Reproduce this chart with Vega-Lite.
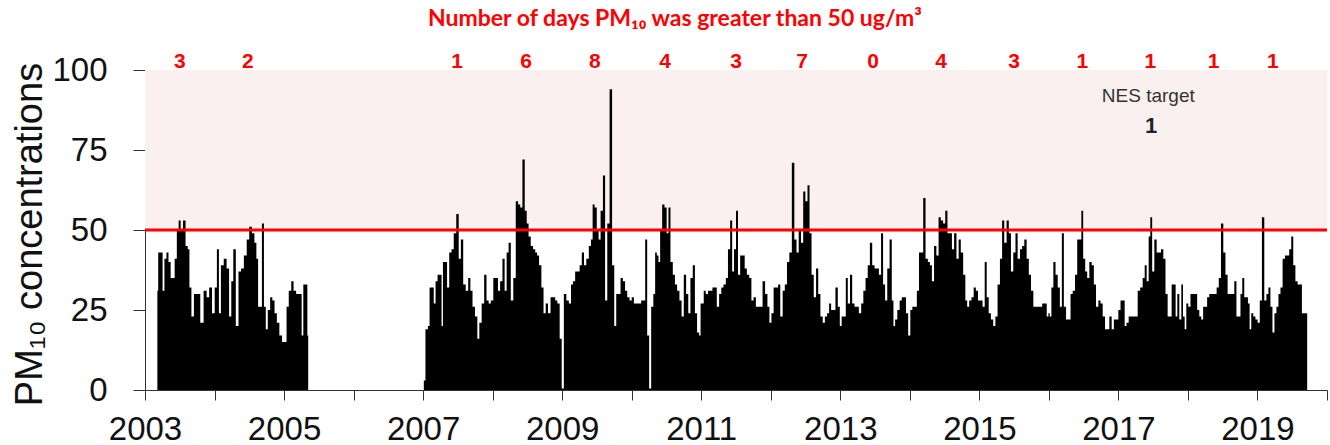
{
"$schema": "https://vega.github.io/schema/vega-lite/v6.json",
"width": 1182, "height": 320,
"autosize": {"type": "none"},
"padding": {"left": 145, "top": 70, "right": 3, "bottom": 55},
"background": "white",
"title": {"text": "Number of days PM₁₀ was greater than 50 ug/m³", "color": "#ff0000", "font": "Lato", "fontWeight": "bold", "fontSize": 23, "anchor": "middle", "frame": "group", "dx": -61, "offset": 2, "baseline": "alphabetic"},
"config": {"view": {"stroke": null}, "axis": {"grid": false}, "font": "Liberation Sans"},
"datasets": {
"pmA": [
{"t":2003.178,"v":31},{"t":2003.202,"v":43},{"t":2003.241,"v":43},{"t":2003.265,"v":31},{"t":2003.294,"v":41},{"t":2003.323,"v":43},{"t":2003.352,"v":40},{"t":2003.386,"v":35},{"t":2003.410,"v":35},{"t":2003.443,"v":41},{"t":2003.472,"v":50},{"t":2003.496,"v":53},{"t":2003.530,"v":50},{"t":2003.564,"v":53},{"t":2003.602,"v":45},{"t":2003.627,"v":44},{"t":2003.651,"v":32},{"t":2003.684,"v":23},{"t":2003.723,"v":30},{"t":2003.771,"v":30},{"t":2003.819,"v":21},{"t":2003.867,"v":31},{"t":2003.906,"v":29},{"t":2003.940,"v":32},{"t":2003.988,"v":24},{"t":2004.017,"v":32},{"t":2004.051,"v":44},{"t":2004.075,"v":24},{"t":2004.108,"v":39},{"t":2004.157,"v":41},{"t":2004.190,"v":38},{"t":2004.229,"v":23},{"t":2004.253,"v":34},{"t":2004.287,"v":44},{"t":2004.325,"v":20},{"t":2004.364,"v":37},{"t":2004.398,"v":38},{"t":2004.446,"v":42},{"t":2004.480,"v":47},{"t":2004.518,"v":51},{"t":2004.557,"v":49},{"t":2004.590,"v":46},{"t":2004.614,"v":41},{"t":2004.639,"v":26},{"t":2004.667,"v":26},{"t":2004.696,"v":52},{"t":2004.725,"v":26},{"t":2004.749,"v":19},{"t":2004.783,"v":25},{"t":2004.817,"v":29},{"t":2004.846,"v":28},{"t":2004.880,"v":24},{"t":2004.913,"v":21},{"t":2004.952,"v":17},{"t":2004.990,"v":15},{"t":2005.024,"v":15},{"t":2005.048,"v":26},{"t":2005.087,"v":31},{"t":2005.120,"v":34},{"t":2005.154,"v":31},{"t":2005.193,"v":30},{"t":2005.241,"v":30},{"t":2005.265,"v":17},{"t":2005.289,"v":33},{"t":2005.323,"v":33},{"t":2005.347,"v":17}
],
"pmB": [
{"t":2007.010,"v":3},{"t":2007.057,"v":19},{"t":2007.081,"v":20},{"t":2007.105,"v":32},{"t":2007.139,"v":32},{"t":2007.167,"v":27},{"t":2007.191,"v":34},{"t":2007.225,"v":36},{"t":2007.258,"v":36},{"t":2007.273,"v":20},{"t":2007.297,"v":40},{"t":2007.330,"v":40},{"t":2007.359,"v":32},{"t":2007.392,"v":43},{"t":2007.426,"v":44},{"t":2007.455,"v":49},{"t":2007.498,"v":55},{"t":2007.526,"v":41},{"t":2007.560,"v":47},{"t":2007.593,"v":33},{"t":2007.632,"v":31},{"t":2007.665,"v":35},{"t":2007.694,"v":31},{"t":2007.727,"v":26},{"t":2007.766,"v":23},{"t":2007.794,"v":16},{"t":2007.823,"v":21},{"t":2007.861,"v":27},{"t":2007.895,"v":36},{"t":2007.928,"v":28},{"t":2007.957,"v":27},{"t":2007.990,"v":28},
{"t":2008.029,"v":35},{"t":2008.062,"v":35},{"t":2008.091,"v":31},{"t":2008.124,"v":34},{"t":2008.158,"v":41},{"t":2008.187,"v":31},{"t":2008.215,"v":43},{"t":2008.244,"v":46},{"t":2008.278,"v":28},{"t":2008.316,"v":35},{"t":2008.349,"v":59},{"t":2008.383,"v":58},{"t":2008.411,"v":57},{"t":2008.445,"v":72},{"t":2008.478,"v":56},{"t":2008.502,"v":52},{"t":2008.531,"v":48},{"t":2008.565,"v":45},{"t":2008.598,"v":44},{"t":2008.627,"v":43},{"t":2008.651,"v":42},{"t":2008.684,"v":39},{"t":2008.718,"v":32},{"t":2008.746,"v":24},{"t":2008.780,"v":27},{"t":2008.813,"v":24},{"t":2008.852,"v":29},{"t":2008.885,"v":29},{"t":2008.914,"v":28},{"t":2008.947,"v":27},{"t":2008.981,"v":16},
{"t":2009.005,"v":0.5},{"t":2009.043,"v":30},{"t":2009.077,"v":28},{"t":2009.115,"v":27},{"t":2009.139,"v":33},{"t":2009.172,"v":34},{"t":2009.201,"v":37},{"t":2009.234,"v":37},{"t":2009.268,"v":39},{"t":2009.297,"v":43},{"t":2009.330,"v":39},{"t":2009.364,"v":41},{"t":2009.402,"v":45},{"t":2009.426,"v":47},{"t":2009.450,"v":58},{"t":2009.483,"v":57},{"t":2009.512,"v":50},{"t":2009.536,"v":47},{"t":2009.569,"v":56},{"t":2009.603,"v":67},{"t":2009.632,"v":28},{"t":2009.665,"v":52},{"t":2009.699,"v":94},{"t":2009.737,"v":39},{"t":2009.761,"v":20},{"t":2009.794,"v":30},{"t":2009.823,"v":30},{"t":2009.856,"v":35},{"t":2009.890,"v":34},{"t":2009.919,"v":31},{"t":2009.952,"v":29},{"t":2009.986,"v":28},
{"t":2010.014,"v":29},{"t":2010.048,"v":27},{"t":2010.081,"v":27},{"t":2010.120,"v":27},{"t":2010.153,"v":28},{"t":2010.182,"v":28},{"t":2010.206,"v":47},{"t":2010.239,"v":17},{"t":2010.263,"v":0.5},{"t":2010.297,"v":26},{"t":2010.325,"v":30},{"t":2010.349,"v":43},{"t":2010.373,"v":42},{"t":2010.397,"v":40},{"t":2010.421,"v":50},{"t":2010.455,"v":58},{"t":2010.488,"v":57},{"t":2010.517,"v":49},{"t":2010.541,"v":57},{"t":2010.574,"v":40},{"t":2010.608,"v":36},{"t":2010.636,"v":33},{"t":2010.670,"v":31},{"t":2010.703,"v":28},{"t":2010.732,"v":23},{"t":2010.766,"v":36},{"t":2010.799,"v":30},{"t":2010.828,"v":24},{"t":2010.861,"v":35},{"t":2010.895,"v":39},{"t":2010.923,"v":24},{"t":2010.957,"v":18},{"t":2010.981,"v":17},
{"t":2011.000,"v":27},{"t":2011.024,"v":27},{"t":2011.048,"v":31},{"t":2011.082,"v":30},{"t":2011.111,"v":31},{"t":2011.144,"v":31},{"t":2011.178,"v":32},{"t":2011.207,"v":32},{"t":2011.240,"v":26},{"t":2011.274,"v":30},{"t":2011.303,"v":32},{"t":2011.337,"v":33},{"t":2011.370,"v":35},{"t":2011.399,"v":44},{"t":2011.433,"v":53},{"t":2011.457,"v":37},{"t":2011.486,"v":44},{"t":2011.514,"v":56},{"t":2011.543,"v":36},{"t":2011.577,"v":42},{"t":2011.611,"v":42},{"t":2011.639,"v":38},{"t":2011.673,"v":36},{"t":2011.707,"v":35},{"t":2011.736,"v":28},{"t":2011.769,"v":29},{"t":2011.803,"v":26},{"t":2011.832,"v":26},{"t":2011.865,"v":26},{"t":2011.899,"v":34},{"t":2011.938,"v":30},{"t":2011.966,"v":26},{"t":2011.995,"v":21},
{"t":2012.024,"v":24},{"t":2012.058,"v":32},{"t":2012.091,"v":32},{"t":2012.120,"v":33},{"t":2012.154,"v":23},{"t":2012.188,"v":31},{"t":2012.216,"v":33},{"t":2012.250,"v":40},{"t":2012.284,"v":43},{"t":2012.322,"v":71},{"t":2012.356,"v":47},{"t":2012.385,"v":43},{"t":2012.418,"v":50},{"t":2012.452,"v":46},{"t":2012.481,"v":62},{"t":2012.514,"v":59},{"t":2012.543,"v":64},{"t":2012.572,"v":49},{"t":2012.601,"v":36},{"t":2012.635,"v":29},{"t":2012.668,"v":38},{"t":2012.697,"v":30},{"t":2012.731,"v":23},{"t":2012.764,"v":21},{"t":2012.793,"v":23},{"t":2012.827,"v":24},{"t":2012.851,"v":27},{"t":2012.885,"v":25},{"t":2012.913,"v":25},{"t":2012.947,"v":32},{"t":2012.981,"v":26},
{"t":2013.005,"v":20},{"t":2013.034,"v":23},{"t":2013.067,"v":23},{"t":2013.091,"v":35},{"t":2013.125,"v":27},{"t":2013.154,"v":36},{"t":2013.188,"v":27},{"t":2013.221,"v":26},{"t":2013.250,"v":26},{"t":2013.284,"v":24},{"t":2013.317,"v":27},{"t":2013.346,"v":31},{"t":2013.380,"v":35},{"t":2013.409,"v":39},{"t":2013.442,"v":46},{"t":2013.476,"v":39},{"t":2013.510,"v":38},{"t":2013.538,"v":38},{"t":2013.572,"v":36},{"t":2013.601,"v":49},{"t":2013.630,"v":33},{"t":2013.659,"v":28},{"t":2013.692,"v":38},{"t":2013.726,"v":47},{"t":2013.755,"v":28},{"t":2013.774,"v":20},{"t":2013.803,"v":22},{"t":2013.837,"v":25},{"t":2013.870,"v":28},{"t":2013.899,"v":29},{"t":2013.933,"v":29},{"t":2013.957,"v":24},{"t":2013.995,"v":17},
{"t":2014.019,"v":25},{"t":2014.053,"v":26},{"t":2014.087,"v":26},{"t":2014.115,"v":31},{"t":2014.149,"v":43},{"t":2014.178,"v":43},{"t":2014.207,"v":60},{"t":2014.245,"v":41},{"t":2014.274,"v":40},{"t":2014.303,"v":39},{"t":2014.332,"v":34},{"t":2014.365,"v":45},{"t":2014.399,"v":42},{"t":2014.428,"v":54},{"t":2014.462,"v":53},{"t":2014.495,"v":52},{"t":2014.524,"v":56},{"t":2014.558,"v":49},{"t":2014.591,"v":49},{"t":2014.620,"v":44},{"t":2014.654,"v":49},{"t":2014.688,"v":41},{"t":2014.716,"v":47},{"t":2014.750,"v":43},{"t":2014.784,"v":36},{"t":2014.813,"v":28},{"t":2014.837,"v":26},{"t":2014.870,"v":28},{"t":2014.904,"v":29},{"t":2014.933,"v":32},{"t":2014.966,"v":31},{"t":2014.995,"v":28},
{"t":2015.029,"v":28},{"t":2015.063,"v":26},{"t":2015.091,"v":40},{"t":2015.120,"v":29},{"t":2015.149,"v":24},{"t":2015.183,"v":22},{"t":2015.216,"v":20},{"t":2015.245,"v":23},{"t":2015.279,"v":33},{"t":2015.313,"v":41},{"t":2015.341,"v":53},{"t":2015.375,"v":46},{"t":2015.409,"v":53},{"t":2015.438,"v":49},{"t":2015.471,"v":37},{"t":2015.505,"v":43},{"t":2015.534,"v":49},{"t":2015.567,"v":41},{"t":2015.601,"v":44},{"t":2015.630,"v":45},{"t":2015.663,"v":47},{"t":2015.697,"v":41},{"t":2015.726,"v":36},{"t":2015.760,"v":31},{"t":2015.793,"v":26},{"t":2015.822,"v":26},{"t":2015.856,"v":26},{"t":2015.889,"v":26},{"t":2015.918,"v":27},{"t":2015.952,"v":27},{"t":2015.986,"v":23},
{"t":2016.000,"v":24},{"t":2016.024,"v":23},{"t":2016.048,"v":32},{"t":2016.081,"v":40},{"t":2016.110,"v":36},{"t":2016.144,"v":32},{"t":2016.172,"v":26},{"t":2016.201,"v":49},{"t":2016.230,"v":26},{"t":2016.264,"v":22},{"t":2016.297,"v":22},{"t":2016.326,"v":30},{"t":2016.359,"v":31},{"t":2016.393,"v":36},{"t":2016.422,"v":47},{"t":2016.455,"v":47},{"t":2016.479,"v":56},{"t":2016.508,"v":41},{"t":2016.537,"v":37},{"t":2016.565,"v":35},{"t":2016.599,"v":40},{"t":2016.632,"v":39},{"t":2016.661,"v":33},{"t":2016.695,"v":26},{"t":2016.728,"v":28},{"t":2016.757,"v":27},{"t":2016.791,"v":23},{"t":2016.824,"v":19},{"t":2016.853,"v":19},{"t":2016.886,"v":23},{"t":2016.920,"v":19},{"t":2016.949,"v":22},{"t":2016.982,"v":22},
{"t":2017.016,"v":25},{"t":2017.045,"v":28},{"t":2017.078,"v":28},{"t":2017.102,"v":20},{"t":2017.131,"v":21},{"t":2017.164,"v":23},{"t":2017.198,"v":23},{"t":2017.231,"v":23},{"t":2017.260,"v":23},{"t":2017.294,"v":31},{"t":2017.332,"v":32},{"t":2017.366,"v":35},{"t":2017.390,"v":39},{"t":2017.423,"v":34},{"t":2017.447,"v":48},{"t":2017.471,"v":54},{"t":2017.500,"v":37},{"t":2017.533,"v":47},{"t":2017.567,"v":43},{"t":2017.596,"v":43},{"t":2017.629,"v":44},{"t":2017.663,"v":41},{"t":2017.691,"v":30},{"t":2017.725,"v":23},{"t":2017.749,"v":23},{"t":2017.782,"v":33},{"t":2017.811,"v":33},{"t":2017.835,"v":23},{"t":2017.859,"v":30},{"t":2017.893,"v":22},{"t":2017.917,"v":33},{"t":2017.941,"v":23},{"t":2017.965,"v":19},{"t":2017.988,"v":27},
{"t":2018.022,"v":26},{"t":2018.051,"v":30},{"t":2018.084,"v":30},{"t":2018.118,"v":30},{"t":2018.147,"v":25},{"t":2018.180,"v":23},{"t":2018.204,"v":22},{"t":2018.233,"v":26},{"t":2018.262,"v":26},{"t":2018.290,"v":29},{"t":2018.324,"v":30},{"t":2018.357,"v":30},{"t":2018.396,"v":30},{"t":2018.429,"v":32},{"t":2018.458,"v":35},{"t":2018.492,"v":52},{"t":2018.525,"v":43},{"t":2018.554,"v":36},{"t":2018.587,"v":30},{"t":2018.621,"v":30},{"t":2018.650,"v":30},{"t":2018.683,"v":34},{"t":2018.712,"v":23},{"t":2018.741,"v":23},{"t":2018.770,"v":30},{"t":2018.793,"v":35},{"t":2018.827,"v":29},{"t":2018.851,"v":29},{"t":2018.875,"v":27},{"t":2018.899,"v":19},{"t":2018.923,"v":24},{"t":2018.956,"v":23},{"t":2018.985,"v":22},
{"t":2019.019,"v":21},{"t":2019.047,"v":28},{"t":2019.081,"v":54},{"t":2019.115,"v":28},{"t":2019.143,"v":30},{"t":2019.172,"v":32},{"t":2019.201,"v":26},{"t":2019.230,"v":18},{"t":2019.258,"v":24},{"t":2019.287,"v":26},{"t":2019.316,"v":30},{"t":2019.345,"v":32},{"t":2019.378,"v":41},{"t":2019.412,"v":42},{"t":2019.440,"v":42},{"t":2019.474,"v":44},{"t":2019.498,"v":48},{"t":2019.531,"v":39},{"t":2019.560,"v":34},{"t":2019.594,"v":33},{"t":2019.627,"v":33},{"t":2019.651,"v":24},{"t":2019.680,"v":24},{"t":2019.715,"v":24}
],
"counts": [
{"t":2003.50,"n":"3"},{"t":2004.48,"n":"2"},{"t":2007.49,"n":"1"},{"t":2008.48,"n":"6"},{"t":2009.47,"n":"8"},{"t":2010.48,"n":"4"},{"t":2011.50,"n":"3"},{"t":2012.45,"n":"7"},{"t":2013.47,"n":"0"},{"t":2014.45,"n":"4"},{"t":2015.50,"n":"3"},{"t":2016.48,"n":"1"},{"t":2017.46,"n":"1"},{"t":2018.37,"n":"1"},{"t":2019.22,"n":"1"}
]
},
"layer": [
{"data": {"values": [{}]}, "mark": {"type": "rect", "color": "#fbf0f0"},
 "encoding": {"x": {"datum": 2003, "type": "quantitative", "scale": {"domain": [2003, 2020], "nice": false, "zero": false}}, "x2": {"datum": 2020}, "y": {"datum": 50, "type": "quantitative", "scale": {"domain": [0, 100], "nice": false}}, "y2": {"datum": 100}}},
{"data": {"name": "pmA"}, "mark": {"type": "area", "interpolate": "step", "color": "#000000", "opacity": 1},
 "encoding": {
 "x": {"field": "t", "type": "quantitative", "scale": {"domain": [2003, 2020], "nice": false, "zero": false},
  "axis": {"title": null, "values": [2003,2004,2005,2006,2007,2008,2009,2010,2011,2012,2013,2014,2015,2016,2017,2018,2019,2020], "format": "d", "labelExpr": "datum.value % 2 == 1 ? datum.label : ''", "labelFlush": false, "labelOverlap": false, "labelBound": false, "labelFontSize": 33, "labelFont": "Liberation Sans", "labelColor": "#111", "labelPadding": 13, "tickSize": 10, "tickColor": "#333", "domainColor": "#333", "tickWidth": 1, "domainWidth": 1}},
 "y": {"field": "v", "type": "quantitative", "stack": null, "scale": {"domain": [0, 100], "nice": false},
  "axis": {"title": "PM₁₀ concentrations", "values": [0, 25, 50, 75, 100], "labelFontSize": 33, "labelFont": "Liberation Sans", "labelColor": "#111", "labelPadding": 26, "tickSize": 12, "tickColor": "#333", "domainColor": "#333", "titleFont": "Liberation Sans", "titleFontSize": 38, "titleFontWeight": "normal", "titleColor": "#111", "titleX": -104, "titleY": 164, "titleAngle": -90, "titleAlign": "center", "titleBaseline": "alphabetic"}}
 }},
{"data": {"name": "pmB"}, "mark": {"type": "area", "interpolate": "step", "color": "#000000", "opacity": 1},
 "encoding": {"x": {"field": "t", "type": "quantitative", "scale": {"domain": [2003, 2020], "nice": false, "zero": false}}, "y": {"field": "v", "type": "quantitative", "stack": null, "scale": {"domain": [0, 100], "nice": false}}}},
{"data": {"values": [{}]}, "mark": {"type": "rule", "color": "#ff0000", "strokeWidth": 3},
 "encoding": {"x": {"datum": 2003, "type": "quantitative"}, "x2": {"datum": 2020}, "y": {"datum": 50, "type": "quantitative"}}},
{"data": {"name": "counts"}, "mark": {"type": "text", "color": "#ff0000", "font": "Liberation Sans", "fontWeight": "bold", "fontSize": 21, "baseline": "alphabetic", "dy": -2},
 "encoding": {"x": {"field": "t", "type": "quantitative"}, "y": {"datum": 100, "type": "quantitative"}, "text": {"field": "n"}}},
{"data": {"values": [{"t": 2017.43, "v": 92, "label": "NES target"}]}, "mark": {"type": "text", "color": "#333333", "font": "Liberation Sans", "fontSize": 19, "baseline": "middle"},
 "encoding": {"x": {"field": "t", "type": "quantitative"}, "y": {"field": "v", "type": "quantitative"}, "text": {"field": "label"}}},
{"data": {"values": [{"t": 2017.47, "v": 82.5, "label": "1"}]}, "mark": {"type": "text", "color": "#222222", "font": "Liberation Sans", "fontWeight": "bold", "fontSize": 22, "baseline": "middle"},
 "encoding": {"x": {"field": "t", "type": "quantitative"}, "y": {"field": "v", "type": "quantitative"}, "text": {"field": "label"}}}
]
}
